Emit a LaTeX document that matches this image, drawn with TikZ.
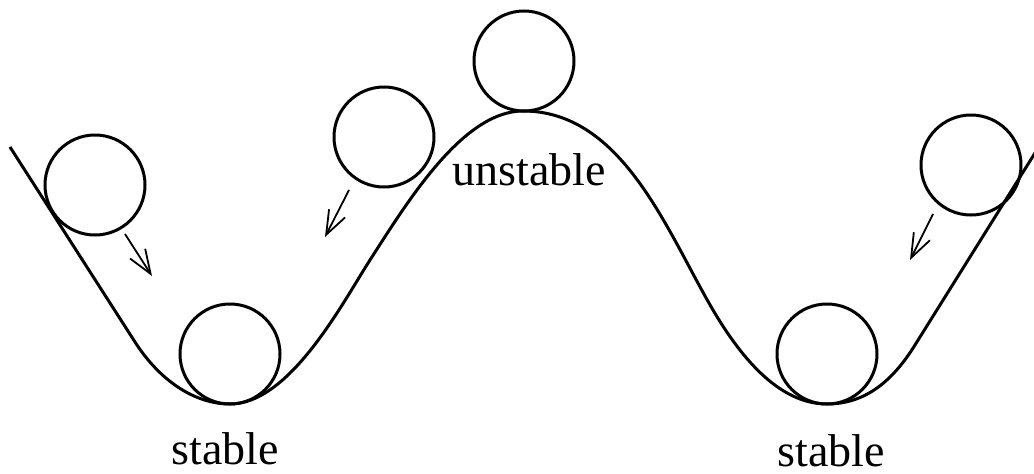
\documentclass[tikz,border=0pt]{standalone}
\usepackage{fontspec}
\setmainfont{Liberation Serif}
\usetikzlibrary{arrows.meta}
\begin{document}
\begin{tikzpicture}[x=1pt,y=-1pt,
  track/.style={line width=3pt,line join=round},
  ball/.style={circle,draw,line width=3pt,minimum size=100pt,inner sep=0pt,outer sep=0pt},
  roll/.style={line width=1.8pt,-{Straight Barb[length=24pt,width=18pt,line width=1.8pt]}},
  lbl/.style={font=\fontsize{46}{50}\selectfont,inner sep=0pt,anchor=base}]
\useasboundingbox (0,0) rectangle (1034,474);
\draw[track] (10,147) -- (135,342)
  .. controls (160,381) and (195,404) .. (230,404)
  .. controls (290,404) and (343,302) .. (370,260)
  .. controls (407.8,201.2) and (463,111) .. (523,111)
  .. controls (623,111) and (667.4,232.4) .. (713,310)
  .. controls (738.4,353.1) and (777,404) .. (827,404)
  .. controls (867,404) and (893.8,379) .. (915,345)
  -- (1040,145);
\node[ball] (b1) at (95,185) {};
\node[ball] (b2) at (384,137) {};
\node[ball] (b3) at (524,61) {};
\node[ball] (b4) at (971,165) {};
\node[ball] (b5) at (230,354) {};
\node[ball] (b6) at (827,354) {};
\coordinate (a1s) at (125,234); \coordinate (a1e) at (152,276);
\coordinate (a2s) at (349,190); \coordinate (a2e) at (325,237);
\coordinate (a3s) at (933,214); \coordinate (a3e) at (910,260);
\draw[roll] (a1s) -- (a1e);
\draw[roll] (a2s) -- (a2e);
\draw[roll] (a3s) -- (a3e);
\node[lbl] (u) at (529.5,185) {unstable};
\node[lbl] (s1) at (225,464) {stable};
\node[lbl] (s2) at (831.5,466) {stable};
\end{tikzpicture}
\end{document}
